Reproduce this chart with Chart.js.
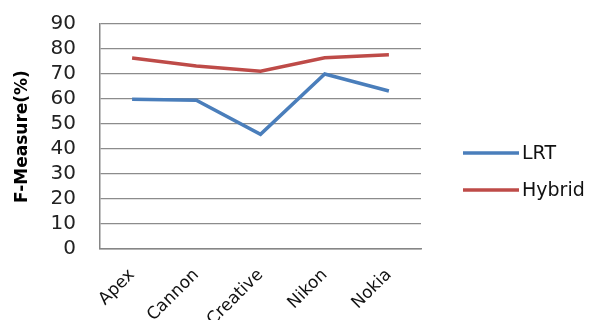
<!DOCTYPE html>
<html>
<head>
<meta charset="utf-8">
<script src="https://cdn.jsdelivr.net/npm/chart.js@4/dist/chart.umd.min.js"></script>
<style>
html,body{margin:0;padding:0;background:#fff;}
#wrap{width:598px;height:320px;position:relative;}
</style>
</head>
<body>
<div id="wrap"><canvas id="c" width="598" height="320"></canvas></div>
<script>
const categories = ["Apex", "Cannon", "Creative", "Nikon", "Nokia"];
const lrtValues = [59.9, 59.5, 45.9, 70.0, 63.2];
const hybridValues = [76.4, 73.2, 71.1, 76.5, 77.7];
const seriesNames = ["LRT", "Hybrid"];
const seriesColors = ["#4a7ebb", "#be4b48"];
const yTitle = "F-Measure(%)";

const legendPlugin = {
  id: 'customLegend',
  afterDraw(chart) {
    const ctx = chart.ctx;
    ctx.save();
    const x0 = 463, lineW = 56, y0 = 153, step = 37;
    chart.data.datasets.forEach((ds, i) => {
      const y = y0 + i * step;
      ctx.strokeStyle = ds.borderColor;
      ctx.lineWidth = 3.5;
      ctx.beginPath();
      ctx.moveTo(x0, y);
      ctx.lineTo(x0 + lineW, y);
      ctx.stroke();
      ctx.fillStyle = '#111';
      ctx.font = '19px "DejaVu Sans"';
      ctx.textBaseline = 'middle';
      ctx.textAlign = 'left';
      ctx.fillText(ds.label, x0 + lineW + 3, y + 1);
    });
    ctx.restore();
  }
};

new Chart(document.getElementById('c'), {
  type: 'line',
  data: {
    labels: categories,
    datasets: [
      {label: seriesNames[0], data: lrtValues, borderColor: seriesColors[0], backgroundColor: seriesColors[0], borderWidth: 3.5, pointRadius: 0, tension: 0},
      {label: seriesNames[1], data: hybridValues, borderColor: seriesColors[1], backgroundColor: seriesColors[1], borderWidth: 3.5, pointRadius: 0, tension: 0}
    ]
  },
  options: {
    responsive: false,
    animation: false,
    devicePixelRatio: 1,
    layout: {padding: {top: 24, right: 177, left: 0, bottom: 0}},
    plugins: {legend: {display: false}, tooltip: {enabled: false}},
    scales: {
      x: {
        offset: true,
        grid: {display: false, drawTicks: false},
        border: {color: '#868686', width: 1.5},
        ticks: {
          color: '#111',
          font: {family: 'DejaVu Sans', size: 17},
          minRotation: 45, maxRotation: 45,
          autoSkip: false,
          padding: 16
        },
        afterFit(scale) { scale.height = 71; scale.paddingTop = 0; }
      },
      y: {
        min: 0, max: 90,
        grid: {color: '#8c8c8c', lineWidth: 1.3, drawTicks: false},
        border: {color: '#868686', width: 1.5},
        ticks: {
          stepSize: 10,
          autoSkip: false,
          color: '#222',
          font: {family: 'DejaVu Sans', size: 20},
          padding: 24
        },
        title: {
          display: true,
          text: yTitle,
          color: '#000',
          font: {family: 'DejaVu Sans', size: 17, weight: 'bold'},
          padding: {top: 12, bottom: 0}
        },
        afterFit(scale) { scale.width = 100; scale.paddingTop = 0; scale.paddingBottom = 0; }
      }
    }
  },
  plugins: [legendPlugin]
});
</script>
</body>
</html>
